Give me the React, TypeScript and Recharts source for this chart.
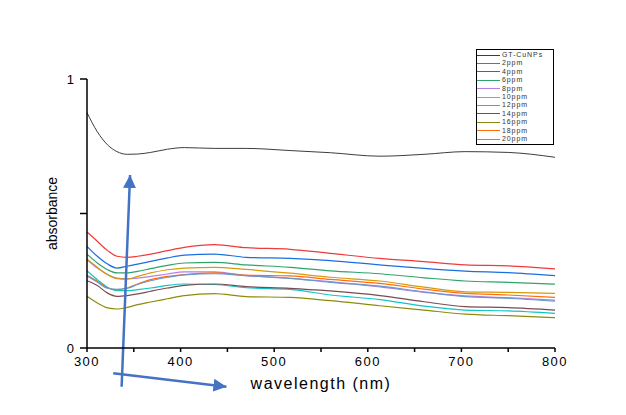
import React from 'react';
import {
  Label,
  Legend,
  Line,
  LineChart,
  ReferenceLine,
  XAxis,
  YAxis,
} from 'recharts';

const wavelengths = [300, 311, 322, 332, 343, 354, 368, 386, 404, 436, 470, 517, 560, 613, 660, 704, 750, 800];

const gtCuNPs = [0.875, 0.804, 0.755, 0.73, 0.72, 0.721, 0.727, 0.739, 0.745, 0.742, 0.742, 0.734, 0.726, 0.713, 0.72, 0.73, 0.727, 0.709];
const ppm2 = [0.431, 0.397, 0.362, 0.341, 0.337, 0.341, 0.349, 0.362, 0.374, 0.384, 0.373, 0.367, 0.352, 0.333, 0.321, 0.309, 0.305, 0.294];
const ppm4 = [0.378, 0.341, 0.312, 0.297, 0.304, 0.312, 0.322, 0.335, 0.345, 0.349, 0.337, 0.333, 0.325, 0.309, 0.296, 0.286, 0.28, 0.269];
const ppm6 = [0.349, 0.316, 0.291, 0.279, 0.279, 0.285, 0.295, 0.307, 0.316, 0.318, 0.309, 0.3, 0.287, 0.276, 0.261, 0.249, 0.244, 0.237];
const ppm8 = [0.328, 0.297, 0.273, 0.26, 0.258, 0.26, 0.266, 0.275, 0.283, 0.283, 0.269, 0.259, 0.247, 0.227, 0.207, 0.194, 0.187, 0.178];
const ppm10 = [0.331, 0.3, 0.273, 0.258, 0.256, 0.266, 0.279, 0.291, 0.297, 0.3, 0.292, 0.278, 0.263, 0.249, 0.226, 0.209, 0.207, 0.203];
const ppm12 = [0.287, 0.254, 0.226, 0.213, 0.213, 0.217, 0.223, 0.233, 0.238, 0.236, 0.224, 0.218, 0.197, 0.18, 0.156, 0.141, 0.138, 0.129];
const ppm14 = [0.25, 0.232, 0.204, 0.192, 0.195, 0.201, 0.211, 0.223, 0.233, 0.238, 0.228, 0.222, 0.212, 0.195, 0.172, 0.154, 0.15, 0.141];
const ppm16 = [0.192, 0.167, 0.149, 0.145, 0.151, 0.161, 0.171, 0.183, 0.195, 0.202, 0.191, 0.188, 0.176, 0.157, 0.141, 0.126, 0.12, 0.113];
const ppm18 = [0.27, 0.248, 0.223, 0.217, 0.223, 0.238, 0.254, 0.266, 0.273, 0.279, 0.271, 0.268, 0.255, 0.24, 0.219, 0.203, 0.197, 0.188];
const ppm20 = [0.268, 0.245, 0.222, 0.218, 0.222, 0.236, 0.25, 0.263, 0.272, 0.276, 0.269, 0.259, 0.244, 0.23, 0.209, 0.191, 0.185, 0.174];

const seriesList = [
  { key: 'gt', name: 'GT-CuNPs', color: '#3d3d3d', values: gtCuNPs },
  { key: 'p2', name: '2ppm', color: '#ee3b3b', values: ppm2 },
  { key: 'p4', name: '4ppm', color: '#1a6fdf', values: ppm4 },
  { key: 'p6', name: '6ppm', color: '#2fa46a', values: ppm6 },
  { key: 'p8', name: '8ppm', color: '#b47fe6', values: ppm8 },
  { key: 'p10', name: '10ppm', color: '#d49b0a', values: ppm10 },
  { key: 'p12', name: '12ppm', color: '#11c4c8', values: ppm12 },
  { key: 'p14', name: '14ppm', color: '#7b4a52', values: ppm14 },
  { key: 'p16', name: '16ppm', color: '#8c8c0a', values: ppm16 },
  { key: 'p18', name: '18ppm', color: '#ff6d0a', values: ppm18 },
  { key: 'p20', name: '20ppm', color: '#6a96cc', values: ppm20 },
];

const xTicks = [300, 350, 400, 450, 500, 550, 600, 650, 700, 750, 800];
const yTicks = [0, 0.5, 1];

// annotation arrows (wavelength, absorbance)
const arrowUp = [{ x: 337, y: -0.144 }, { x: 346, y: 0.643 }];
const arrowRight = [{ x: 328, y: -0.094 }, { x: 449, y: -0.144 }];

const data = wavelengths.map((w, i) => {
  const row: Record<string, number> = { wavelength: w };
  seriesList.forEach((s) => {
    row[s.key] = s.values[i];
  });
  return row;
});

const font = '"Liberation Sans", Arial, sans-serif';

const LegendBox = () => (
  <div
    style={{
      boxSizing: 'border-box',
      width: 78,
      border: '1.5px solid #000',
      background: '#fff',
      paddingTop: 1,
      paddingBottom: 1,
      fontFamily: font,
      fontSize: 7,
      letterSpacing: 0.9,
      color: '#333',
    }}
  >
    {seriesList.map((s) => (
      <div
        key={s.key}
        style={{ display: 'flex', alignItems: 'center', height: 8.4, lineHeight: '8.4px', overflow: 'hidden' }}
      >
        <span
          style={{ display: 'inline-block', width: 23, borderTop: `1.2px solid ${s.color}`, marginRight: 2 }}
        />
        <span>{s.name}</span>
      </div>
    ))}
  </div>
);

export default function App() {
  return (
    <LineChart
      width={618}
      height={407}
      data={data}
      margin={{ top: 71, right: 71, bottom: 27, left: 39 }}
    >
      <defs>
        <marker
          id="arrowHead"
          markerUnits="userSpaceOnUse"
          markerWidth={13}
          markerHeight={13}
          refX={13}
          refY={6.5}
          orient="auto"
        >
          <path d="M0,0 L13,6.5 L0,13 z" fill="#4472c4" />
        </marker>
      </defs>
      <XAxis
        dataKey="wavelength"
        type="number"
        domain={[300, 800]}
        ticks={xTicks}
        tickFormatter={(v) => (v % 100 === 0 ? String(v) : '')}
        height={40}
        tickSize={4}
        tickMargin={5}
        stroke="#000"
        strokeWidth={1.5}
        tick={{ fill: '#000', fontSize: 13, fontFamily: font, letterSpacing: 1.5 }}
      >
        <Label
          content={({ viewBox }: any) => (
            <text
              x={viewBox.x + viewBox.width / 2}
              y={381}
              textAnchor="middle"
              fontFamily={font}
              fontSize={16}
              letterSpacing={1.5}
              fill="#000"
            >
              wavelength (nm)
            </text>
          )}
        />
      </XAxis>
      <YAxis
        type="number"
        domain={[0, 1]}
        ticks={yTicks}
        tickFormatter={(v) => (v === 0.5 ? '' : String(v))}
        width={40}
        tickSize={7}
        tickMargin={6}
        stroke="#000"
        strokeWidth={1.5}
        tick={{ fill: '#000', fontSize: 13, fontFamily: font }}
      >
        <Label
          content={({ viewBox }: any) => {
            const cy = viewBox.y + viewBox.height / 2;
            return (
              <text
                x={44}
                y={cy}
                transform={`rotate(-90 44 ${cy})`}
                textAnchor="middle"
                dominantBaseline="central"
                fontFamily={font}
                fontSize={14}
                fill="#000"
              >
                absorbance
              </text>
            );
          }}
        />
      </YAxis>
      {seriesList.map((s) => (
        <Line
          key={s.key}
          type="monotone"
          dataKey={s.key}
          name={s.name}
          stroke={s.color}
          strokeWidth={s.key === 'gt' ? 1 : 1.2}
          dot={false}
          activeDot={false}
          isAnimationActive={false}
        />
      ))}
      <ReferenceLine
        segment={arrowUp}
        ifOverflow="visible"
        stroke="#4472c4"
        strokeWidth={2.5}
        markerEnd="url(#arrowHead)"
      />
      <ReferenceLine
        segment={arrowRight}
        ifOverflow="visible"
        stroke="#4472c4"
        strokeWidth={2.5}
        markerEnd="url(#arrowHead)"
      />
      <Legend
        layout="vertical"
        align="center"
        verticalAlign="middle"
        content={() => <LegendBox />}
        wrapperStyle={{ left: 468, top: 41, width: 78, height: 'auto' }}
      />
    </LineChart>
  );
}
